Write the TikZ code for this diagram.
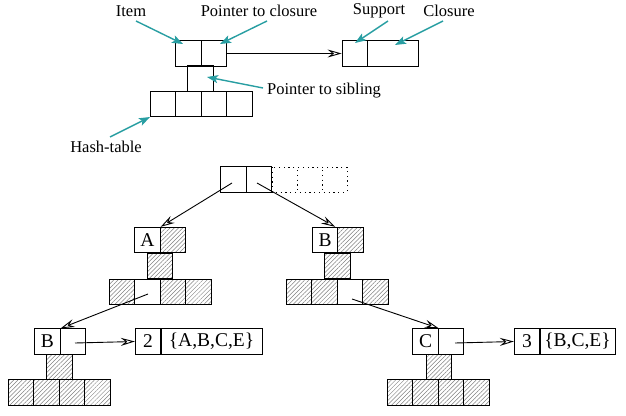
\documentclass[tikz,border=0pt]{standalone}
\usepackage{fontspec}
\setmainfont{Liberation Serif}
\usetikzlibrary{arrows.meta,patterns.meta}
\definecolor{tealc}{RGB}{40,158,162}
\begin{document}
\begin{tikzpicture}[x=1pt,y=-1pt,
  cell/.style={draw,line width=0.9pt,minimum height=25.5pt,minimum width=25.5pt,inner sep=0pt,font=\rmfamily\fontsize{19.5}{20}\selectfont},
  hat/.style={cell,pattern={Lines[angle=45,distance=3pt,line width=0.5pt]},pattern color=gray},
  lbl/.style={font=\rmfamily\fontsize{16.5}{18}\selectfont,inner sep=0pt},
  ptr/.style={line width=0.9pt,-{Stealth[open,length=14pt,width=8pt,inset=5pt]}},
  note/.style={tealc,line width=1.4pt,-{Stealth[length=11pt,width=8pt,inset=2.5pt]}},
  dotbox/.style={line width=1pt,dash pattern=on 1.2pt off 3.6pt}]
\useasboundingbox (0,0) rectangle (626,415);
% ---------- legend structure ----------
\node[cell] (it1) at (188.5,53.5) {};
\node[cell] (it2) at (214,53.5) {};
\node[cell] (vc) at (200.5,78.5) {};
\node[cell] (h1) at (163,104) {};
\node[cell] (h2) at (188.5,104) {};
\node[cell] (h3) at (214,104) {};
\node[cell] (h4) at (239.5,104) {};
\node[cell,minimum width=25pt] (sup) at (354.5,53.5) {};
\node[cell,minimum width=51pt] (clo) at (392.5,53.5) {};
\draw[ptr] (it2.east) -- (sup.west);
% labels
\node[lbl] (lItem) at (131,11) {Item};
\node[lbl] (lPtc) at (259,11) {Pointer to closure};
\node[lbl] (lSup) at (379,11) {Support};
\node[lbl] (lClo) at (449,11) {Closure};
\node[lbl] (lSib) at (324,91) {Pointer to sibling};
\node[lbl] (lHash) at (106,147) {Hash-table};
\coordinate (eItem) at (183,44);
\coordinate (ePtc) at (220,44);
\coordinate (eSup) at (355,43);
\coordinate (eClo) at (395,45);
\coordinate (eSib) at (207,77);
\coordinate (eHash) at (150,117);
\draw[note] (136,21) -- (eItem);
\draw[note] (267,21) -- (ePtc);
\draw[note] (388,21) -- (eSup);
\draw[note] (443,21) -- (eClo);
\draw[note] (263,88) -- (eSib);
\draw[note] (110,137) -- (eHash);
% ---------- tree ----------
\node[cell] (r1) at (233.5,179.5) {};
\node[cell] (r2) at (259,179.5) {};
\draw[dotbox] (272,167) rectangle (347,192);
\draw[dotbox] (297,170) -- (297,190);
\draw[dotbox] (322,170) -- (322,190);
% A
\node[cell] (a1) at (147.5,240) {A};
\node[hat] (a2) at (173,240) {};
\node[hat] (ac) at (160,266) {};
\node[hat] (ah1) at (122,292) {};
\node[cell] (ah2) at (147.5,292) {};
\node[hat] (ah3) at (173,292) {};
\node[hat] (ah4) at (198.5,292) {};
% B
\node[cell] (b1) at (325,240) {B};
\node[hat] (b2) at (350.5,240) {};
\node[hat] (bc) at (337.5,266) {};
\node[hat] (bh1) at (299,292) {};
\node[hat] (bh2) at (324.5,292) {};
\node[cell] (bh3) at (350,292) {};
\node[hat] (bh4) at (375.5,292) {};
% lower B
\node[cell] (lb1) at (47.5,341.5) {B};
\node[cell] (lb2) at (73,341.5) {};
\node[hat] (lbc) at (59.5,367) {};
\node[hat] (lbh1) at (21,392.5) {};
\node[hat] (lbh2) at (46.5,392.5) {};
\node[hat] (lbh3) at (72,392.5) {};
\node[hat] (lbh4) at (97.5,392.5) {};
\node[cell] (s1) at (148,341.5) {2};
\node[cell,minimum width=101pt] (s2) at (211.5,341.5) {\{A,B,C,E\}};
% lower C
\node[cell] (lc1) at (425.5,341.5) {C};
\node[cell] (lc2) at (451,341.5) {};
\node[hat] (lcc) at (439,367) {};
\node[hat] (lch1) at (400,392.5) {};
\node[hat] (lch2) at (425.5,392.5) {};
\node[hat] (lch3) at (451,392.5) {};
\node[hat] (lch4) at (476.5,392.5) {};
\node[cell] (t1) at (527,341.5) {3};
\node[cell,minimum width=75pt] (t2) at (577.5,341.5) {\{B,C,E\}};
% pointers
\coordinate (sr1) at (232,183);
\coordinate (sr2) at (257,183);
\coordinate (sah) at (148,294);
\coordinate (sbh) at (352,299);
\coordinate (slb) at (75,343);
\coordinate (slc) at (455,343);
\draw[ptr] (sr1) -- (a1.north east);
\draw[ptr] (sr2) -- ([xshift=-3pt]b1.north east);
\draw[ptr] (sah) -- (lb1.north east);
\draw[ptr] (sbh) -- (lc1.north east);
\draw[ptr] (slb) -- (s1.west);
\draw[ptr] (slc) -- (t1.west);
\end{tikzpicture}
\end{document}
